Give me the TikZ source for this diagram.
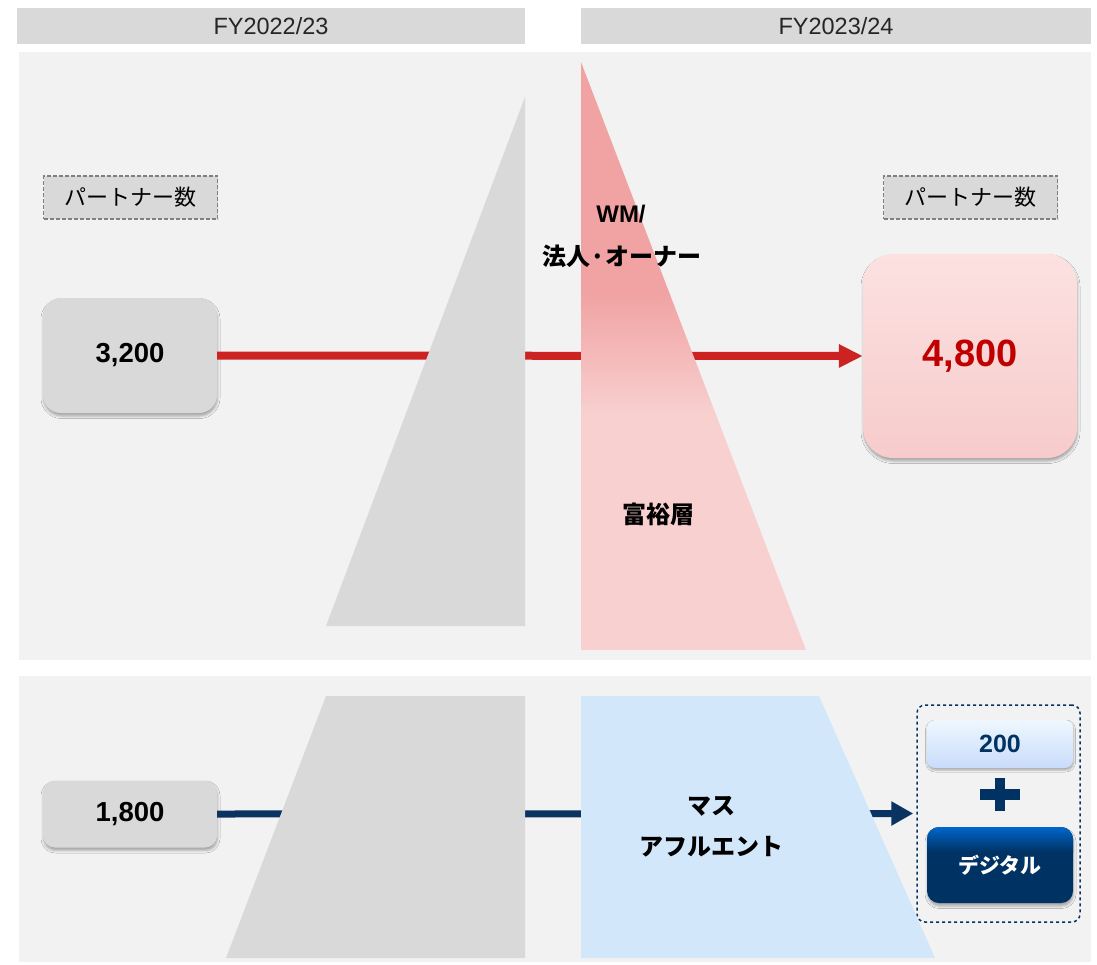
\documentclass[tikz,border=0pt]{standalone}
\usepackage{fontspec}
\setmainfont{Liberation Sans}
\newfontfamily\jp{Noto Sans CJK JP}
\usetikzlibrary{arrows.meta,shadows.blur}
\definecolor{hdrgray}{HTML}{D9D9D9}
\definecolor{panelgray}{HTML}{F2F2F2}
\definecolor{trigray}{HTML}{D9D9D9}
\definecolor{pinkD}{HTML}{F1A3A3}
\definecolor{pinkL}{HTML}{F8D0D0}
\definecolor{boxpinkT}{HTML}{FCE1E1}
\definecolor{boxpinkB}{HTML}{F7CBCB}
\definecolor{redline}{HTML}{CC2222}
\definecolor{redtxt}{HTML}{C00000}
\definecolor{navy}{HTML}{0B3361}
\definecolor{navyD}{HTML}{003263}
\definecolor{navyB}{HTML}{0066CC}
\definecolor{bluelt}{HTML}{D3E7FB}
\definecolor{bluemid}{HTML}{E8F4FE}
\definecolor{dashgray}{HTML}{7F7F7F}
\newcommand{\myfs}[1]{\fontsize{#1}{#1}\selectfont}
\begin{document}
\begin{tikzpicture}[x=1pt,y=-1pt,
  hdrbar/.style={fill=hdrgray,draw=none,inner sep=0,minimum height=36pt,font=\myfs{23.5},text=black!85},
  pbox/.style={fill=hdrgray,draw=dashgray,dash pattern=on 4pt off 2pt,line width=1.3pt,inner sep=0,minimum width=174pt,minimum height=43pt,font=\jp\myfs{22}},
  softshadow/.style={blur shadow={shadow xshift=0.5pt,shadow yshift=-3pt,shadow blur radius=2.5pt,shadow opacity=32}},
  numbox/.style={fill=hdrgray,draw=none,inner sep=0,font=\bfseries\myfs{27.5},softshadow},
  lbl/.style={font=\jp\bfseries\myfs{24},inner sep=0,align=center},
]
\useasboundingbox (0,0) rectangle (1097,964);
\fill[white] (0,0) rectangle (1097,964);

% headers
\node[hdrbar,minimum width=508pt] (h1) at (271,26) {FY2022/23};
\node[hdrbar,minimum width=510pt] (h2) at (836,26) {FY2023/24};

% panels
\fill[panelgray] (19,52) rectangle (1091,660);
\fill[panelgray] (19,676) rectangle (1091,962);

% top boxes
\node[pbox] (p1) at (130.5,197.5) {パートナー数};
\node[pbox] (p2) at (970.5,197.5) {パートナー数};
\node[numbox,rounded corners=18pt,minimum width=174pt,minimum height=115pt] (n3200) at (130,355.5) {3,200};
\node[inner sep=0,rounded corners=30pt,minimum width=214pt,minimum height=204pt,top color=boxpinkT,bottom color=boxpinkB,
  softshadow,font=\bfseries\myfs{38},text=redtxt] (n4800) at (970,356) {4,800};

% red connector
\draw[redline,line width=8pt,-{Triangle[length=24pt,width=22pt]}] (n3200.east) -- (n4800.west);

% grey triangle
\fill[trigray] (525,97) -- (525,626) -- (326,626) -- cycle;
% red triangle with gradient
\begin{scope}
\clip (581,62) -- (806,650) -- (581,650) -- cycle;
\fill[pinkD] (581,62) rectangle (806,295);
\shade[top color=pinkD,bottom color=pinkL] (581,294) rectangle (806,416);
\fill[pinkL] (581,415) rectangle (806,650);
\end{scope}

\node[lbl,font=\bfseries\myfs{24}] (wm) at (621,214) {WM/};
\node[lbl] (hojin) at (622,256) {法人·オーナー};
\node[lbl] (fuyu) at (658,514) {富裕層};

% bottom
\node[numbox,rounded corners=12pt,minimum width=174pt,minimum height=67pt] (n1800) at (130,814) {1,800};
\node[draw=navy,dashed,line width=1.5pt,rounded corners=8pt,inner sep=0,minimum width=163pt,minimum height=217pt] (grp) at (998.5,813.5) {};

\draw[navy,line width=7pt,-{Triangle[length=22pt,width=23pt]},shorten >=3pt] (n1800.east) -- (grp.west);

\fill[trigray] (326,696) -- (525,696) -- (525,958) -- (226,958) -- cycle;
\shade[top color=bluelt,middle color=bluemid,bottom color=bluelt] (581,696) -- (819,696) -- (935,958) -- (581,958) -- cycle;

\node[lbl] (masu) at (711,806) {マス};
\node[lbl] (aff) at (711,847) {アフルエント};

\node[inner sep=0,rounded corners=8pt,minimum width=146pt,minimum height=48pt,top color=bluemid!70!white,bottom color=bluelt!95!blue,
  blur shadow={shadow xshift=0.5pt,shadow yshift=-2pt,shadow blur radius=2pt,shadow opacity=32},
  font=\bfseries\myfs{25},text=navyD] (n200) at (1000,744) {200};

\fill[navyD] (995,778) rectangle (1005,811);
\fill[navyD] (980,789) rectangle (1020,800);

\node[inner sep=0,rounded corners=12pt,minimum width=146pt,minimum height=76pt,fill=navyD,softshadow] (digi) at (1000,865) {};
\begin{scope}
\clip[rounded corners=12pt] (927,827) rectangle (1073,903);
\shade[top color=navyB,bottom color=navyD] (927,827) rectangle (1073,852);
\end{scope}
\node[font=\jp\bfseries\myfs{21},text=white,inner sep=0] (digit) at (digi.center) {デジタル};

\end{tikzpicture}
\end{document}
